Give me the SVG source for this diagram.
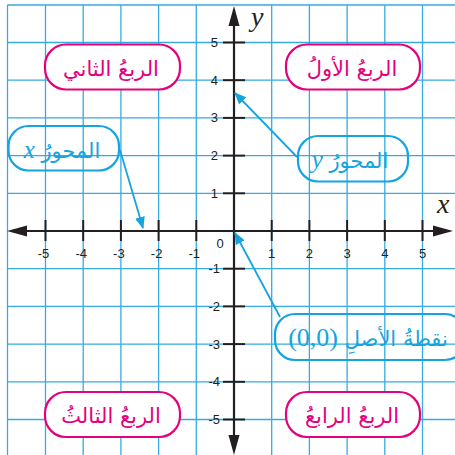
<svg xmlns="http://www.w3.org/2000/svg" width="455" height="455" viewBox="0 0 455 455">
<style>
.grid line{stroke:#35abe1;stroke-width:1.3}
.axis{stroke:#231f20;stroke-width:2.2;fill:none}
.tick{stroke:#231f20;stroke-width:2}
.num{font-family:"Liberation Sans","DejaVu Sans",sans-serif;font-size:13px;fill:#231f20}
.pink rect{fill:#fff;stroke:#e5007e;stroke-width:2.2}
.pink text{fill:#e5007e;font-family:"DejaVu Sans",sans-serif;font-size:21px;text-anchor:middle}
.blue rect{fill:none;stroke:#14a5df;stroke-width:2.2}
.blue text{fill:#14a5df;font-family:"DejaVu Sans",sans-serif;font-size:21px;text-anchor:middle}
.lat{font-family:"Liberation Serif",serif;font-style:italic;font-size:25px}
.conn line{stroke:#14a5df;stroke-width:1.8}
.var{font-family:"Liberation Serif",serif;font-style:italic;font-size:28px;fill:#231f20}
</style>
<defs>
<marker id="ah" markerWidth="12" markerHeight="10" refX="11" refY="5" orient="auto" markerUnits="userSpaceOnUse">
<path d="M0,0 L12,5 L0,10 Z" fill="#14a5df"/>
</marker>
</defs>
<rect width="455" height="455" fill="#fff"/>
<g class="grid">
<line x1="7.5" y1="5" x2="7.5" y2="455"/>
<line x1="45.5" y1="5" x2="45.5" y2="455"/>
<line x1="83.2" y1="5" x2="83.2" y2="455"/>
<line x1="120.9" y1="5" x2="120.9" y2="455"/>
<line x1="158.6" y1="5" x2="158.6" y2="455"/>
<line x1="196.3" y1="5" x2="196.3" y2="455"/>
<line x1="271.7" y1="5" x2="271.7" y2="455"/>
<line x1="309.4" y1="5" x2="309.4" y2="455"/>
<line x1="347.1" y1="5" x2="347.1" y2="455"/>
<line x1="384.8" y1="5" x2="384.8" y2="455"/>
<line x1="422.5" y1="5" x2="422.5" y2="455"/>
<line x1="7.5" y1="5" x2="455" y2="5"/>
<line x1="7.5" y1="42.5" x2="455" y2="42.5"/>
<line x1="7.5" y1="80.2" x2="455" y2="80.2"/>
<line x1="7.5" y1="117.9" x2="455" y2="117.9"/>
<line x1="7.5" y1="155.6" x2="455" y2="155.6"/>
<line x1="7.5" y1="193.3" x2="455" y2="193.3"/>
<line x1="7.5" y1="268.7" x2="455" y2="268.7"/>
<line x1="7.5" y1="306.4" x2="455" y2="306.4"/>
<line x1="7.5" y1="344.1" x2="455" y2="344.1"/>
<line x1="7.5" y1="381.8" x2="455" y2="381.8"/>
<line x1="7.5" y1="419.5" x2="455" y2="419.5"/>
</g>
<g id="axes">
<line class="axis" x1="24" y1="231" x2="436" y2="231"/>
<path d="M7,231 L27,225.5 L27,236.5 Z" fill="#231f20"/>
<path d="M453,231 L433,225.5 L433,236.5 Z" fill="#231f20"/>
<line class="axis" x1="234" y1="22" x2="234" y2="438"/>
<path d="M234,6 L228.5,26 L239.5,26 Z" fill="#231f20"/>
<path d="M234,455 L228.5,435 L239.5,435 Z" fill="#231f20"/>
<g class="tick">
<line x1="45.5" y1="220" x2="45.5" y2="241"/>
<line x1="83.2" y1="220" x2="83.2" y2="241"/>
<line x1="120.9" y1="220" x2="120.9" y2="241"/>
<line x1="158.6" y1="220" x2="158.6" y2="241"/>
<line x1="196.3" y1="220" x2="196.3" y2="241"/>
<line x1="271.7" y1="220" x2="271.7" y2="241"/>
<line x1="309.4" y1="220" x2="309.4" y2="241"/>
<line x1="347.1" y1="220" x2="347.1" y2="241"/>
<line x1="384.8" y1="220" x2="384.8" y2="241"/>
<line x1="422.5" y1="220" x2="422.5" y2="241"/>
<line x1="223" y1="42.5" x2="245" y2="42.5"/>
<line x1="223" y1="80.2" x2="245" y2="80.2"/>
<line x1="223" y1="117.9" x2="245" y2="117.9"/>
<line x1="223" y1="155.6" x2="245" y2="155.6"/>
<line x1="223" y1="193.3" x2="245" y2="193.3"/>
<line x1="223" y1="268.7" x2="245" y2="268.7"/>
<line x1="223" y1="306.4" x2="245" y2="306.4"/>
<line x1="223" y1="344.1" x2="245" y2="344.1"/>
<line x1="223" y1="381.8" x2="245" y2="381.8"/>
<line x1="223" y1="419.5" x2="245" y2="419.5"/>
</g>
<g class="num" text-anchor="middle">
<text x="43.5" y="258">-5</text>
<text x="81.2" y="258">-4</text>
<text x="118.9" y="258">-3</text>
<text x="156.6" y="258">-2</text>
<text x="194.3" y="258">-1</text>
<text x="271.7" y="258">1</text>
<text x="309.4" y="258">2</text>
<text x="347.1" y="258">3</text>
<text x="384.8" y="258">4</text>
<text x="422.5" y="258">5</text>
<text x="220" y="248">0</text>
</g>
<g class="num" text-anchor="end">
<text x="218" y="47">5</text>
<text x="218" y="84.7">4</text>
<text x="218" y="122.4">3</text>
<text x="218" y="160.1">2</text>
<text x="218" y="197.8">1</text>
<text x="220" y="273.2">-1</text>
<text x="220" y="310.9">-2</text>
<text x="220" y="348.6">-3</text>
<text x="220" y="386.3">-4</text>
<text x="220" y="424">-5</text>
</g>
<text class="var" x="437" y="213">x</text>
<text class="var" x="251" y="26">y</text>
</g>
<g class="conn">
<line x1="120" y1="150" x2="143" y2="228" marker-end="url(#ah)"/>
<line x1="297" y1="157" x2="235" y2="93" marker-end="url(#ah)"/>
<line x1="280" y1="317" x2="235" y2="233" marker-end="url(#ah)"/>
</g>
<g id="q2" class="pink"><rect x="45" y="44.5" width="135" height="45" rx="21"/><text x="111" y="76">الربعُ الثاني</text></g>
<g id="q1" class="pink"><rect x="286" y="44.5" width="134" height="45" rx="21"/><text x="352" y="76">الربعُ الأولُ</text></g>
<g id="q3" class="pink"><rect x="45" y="392" width="135" height="45" rx="21"/><text x="111" y="423">الربعُ الثالثُ</text></g>
<g id="q4" class="pink"><rect x="286" y="392" width="134" height="45" rx="21"/><text x="352" y="423">الربعُ الرابعُ</text></g>
<g id="xaxis-label" class="blue"><rect x="8.5" y="126" width="110.5" height="44.5" rx="20"/><text x="62" y="158" direction="rtl">المحورُ <tspan class="lat">x</tspan></text></g>
<g id="yaxis-label" class="blue"><rect x="298" y="136" width="110" height="45.5" rx="20"/><text x="350" y="168" direction="rtl">المحورُ <tspan class="lat">y</tspan></text></g>
<g id="origin-label" class="blue"><rect x="275" y="314" width="190" height="46" rx="20"/><text x="368" y="346" direction="rtl">نقطةُ الأصلِ <tspan font-family="Liberation Serif,serif" font-size="26px">(0,0)</tspan></text></g>
</svg>
